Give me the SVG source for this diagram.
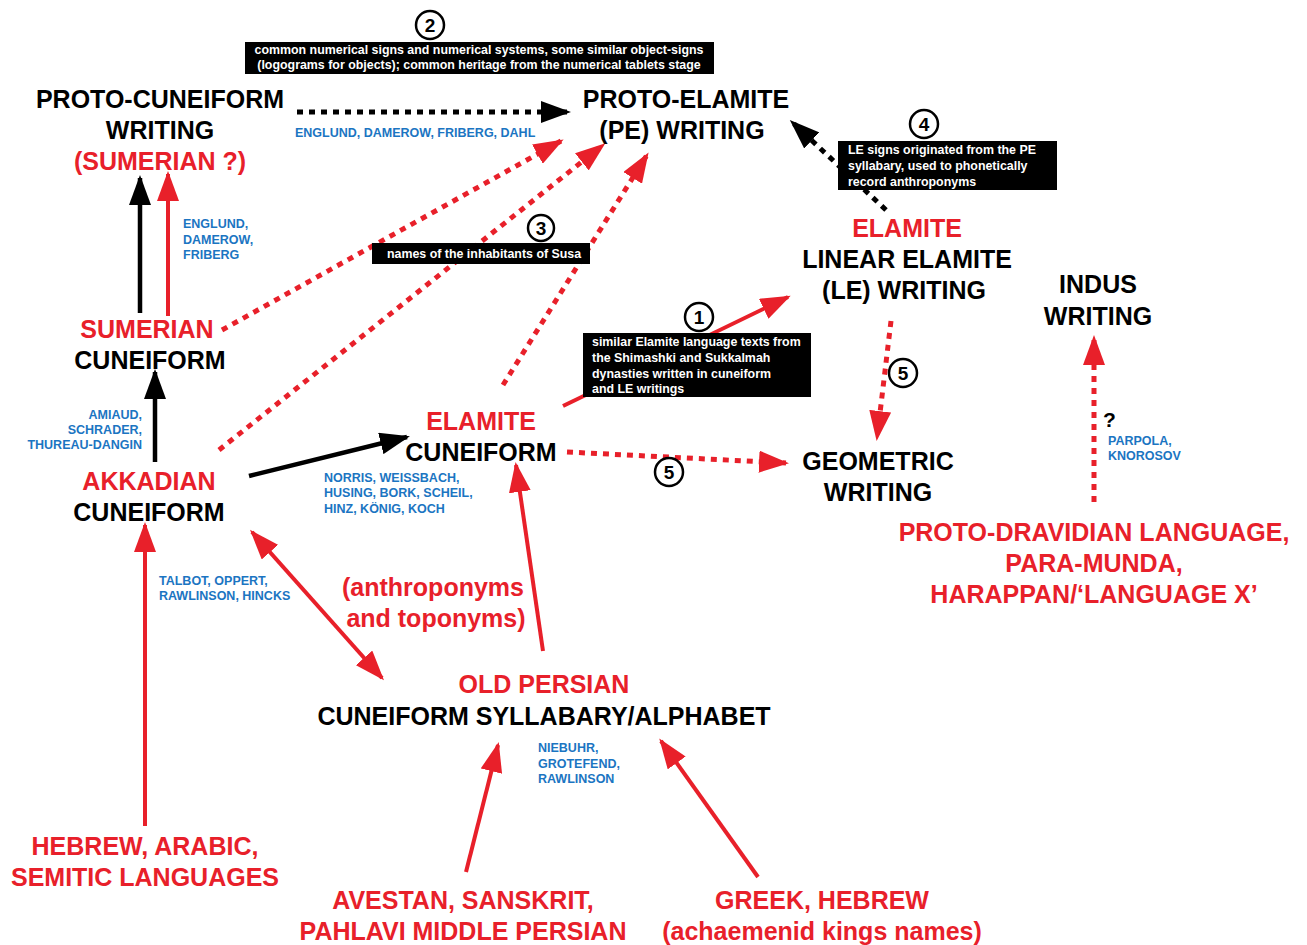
<svg xmlns="http://www.w3.org/2000/svg" width="1307" height="945" viewBox="0 0 1307 945">
<style>
text{font-family:"Liberation Sans",Arial,sans-serif;font-weight:bold}
.t{font-size:25px;text-anchor:middle}
.k{fill:#000}
.r{fill:#e8202a}
.b{fill:#1b75c2;font-size:12.5px}
.bx{fill:#000}
.w{fill:#fff;font-size:12.4px}
.num{font-size:19px;text-anchor:middle;fill:#000}
.ring{fill:#fff;stroke:#000;stroke-width:2.5}
.sk{stroke:#000;stroke-width:4.5;fill:none}
.sr{stroke:#e8202a;stroke-width:4;fill:none}
.dk{stroke:#000;stroke-width:5;fill:none;stroke-dasharray:6 6}
.dr{stroke:#e8202a;stroke-width:5;fill:none;stroke-dasharray:6 6}
</style>
<defs>
<marker id="ak" viewBox="0 0 30 22" refX="27" refY="11" markerWidth="30" markerHeight="22" markerUnits="userSpaceOnUse" orient="auto-start-reverse"><path d="M0,0 L30,11 L0,22 z" fill="#000"/></marker>
<marker id="ar" viewBox="0 0 30 22" refX="27" refY="11" markerWidth="30" markerHeight="22" markerUnits="userSpaceOnUse" orient="auto-start-reverse"><path d="M0,0 L30,11 L0,22 z" fill="#e8202a"/></marker>
</defs>
<rect width="1307" height="945" fill="#fff"/>
<g id="connectors">
<line class="dk" x1="297" y1="112" x2="568" y2="112" marker-end="url(#ak)"/>
<line class="sk" x1="140" y1="313" x2="140" y2="178" marker-end="url(#ak)"/>
<line class="sr" x1="168" y1="316" x2="168" y2="174" marker-end="url(#ar)"/>
<line class="dr" x1="222" y1="330" x2="561" y2="141" marker-end="url(#ar)"/>
<line class="dr" x1="219" y1="450" x2="603" y2="145" marker-end="url(#ar)"/>
<line class="dr" x1="503" y1="385" x2="647" y2="155" marker-end="url(#ar)"/>
<line class="dk" x1="886" y1="210" x2="792" y2="122" marker-end="url(#ak)"/>
<line class="sr" x1="563" y1="406" x2="788" y2="297" marker-end="url(#ar)"/>
<line class="dr" x1="891" y1="321" x2="877" y2="438" marker-end="url(#ar)"/>
<line class="sk" x1="249" y1="476" x2="407" y2="437" marker-end="url(#ak)"/>
<line class="dr" x1="567" y1="452" x2="786" y2="463" marker-end="url(#ar)"/>
<line class="sk" x1="155" y1="462" x2="155" y2="372" marker-end="url(#ak)"/>
<line class="dr" x1="1094" y1="502" x2="1094" y2="338" marker-end="url(#ar)"/>
<line class="sr" x1="145" y1="826" x2="145" y2="525" marker-end="url(#ar)"/>
<line class="sr" x1="252" y1="532" x2="382" y2="678" marker-start="url(#ar)" marker-end="url(#ar)"/>
<line class="sr" x1="543" y1="651" x2="516" y2="465" marker-end="url(#ar)"/>
<line class="sr" x1="466" y1="872" x2="498" y2="745" marker-end="url(#ar)"/>
<line class="sr" x1="758" y1="877" x2="661" y2="741" marker-end="url(#ar)"/>
</g>
<g id="proto-cuneiform">
<text class="t k" x="160" y="108">PROTO-CUNEIFORM</text>
<text class="t k" x="160" y="139">WRITING</text>
<text class="t r" x="160" y="170">(SUMERIAN ?)</text>
</g>
<g id="proto-elamite">
<text class="t k" x="686" y="108">PROTO-ELAMITE</text>
<text class="t k" x="682" y="139">(PE) WRITING</text>
</g>
<g id="linear-elamite">
<text class="t r" x="907" y="237">ELAMITE</text>
<text class="t k" x="907" y="268">LINEAR ELAMITE</text>
<text class="t k" x="904" y="299">(LE) WRITING</text>
</g>
<g id="indus">
<text class="t k" x="1098" y="293">INDUS</text>
<text class="t k" x="1098" y="325">WRITING</text>
</g>
<g id="sumerian">
<text class="t r" x="147" y="338">SUMERIAN</text>
<text class="t k" x="150" y="369">CUNEIFORM</text>
</g>
<g id="akkadian">
<text class="t r" x="149" y="490">AKKADIAN</text>
<text class="t k" x="149" y="521">CUNEIFORM</text>
</g>
<g id="elamite-cuneiform">
<text class="t r" x="481" y="430">ELAMITE</text>
<text class="t k" x="481" y="461">CUNEIFORM</text>
</g>
<g id="geometric">
<text class="t k" x="878" y="470">GEOMETRIC</text>
<text class="t k" x="878" y="501">WRITING</text>
</g>
<g id="proto-dravidian">
<text class="t r" x="1094" y="541">PROTO-DRAVIDIAN LANGUAGE,</text>
<text class="t r" x="1094" y="572">PARA-MUNDA,</text>
<text class="t r" x="1094" y="603">HARAPPAN/‘LANGUAGE X’</text>
</g>
<g id="anthroponyms">
<text class="t r" x="433" y="596">(anthroponyms</text>
<text class="t r" x="436" y="627">and toponyms)</text>
</g>
<g id="old-persian">
<text class="t r" x="544" y="693">OLD PERSIAN</text>
<text class="t k" x="544" y="725">CUNEIFORM SYLLABARY/ALPHABET</text>
</g>
<g id="semitic">
<text class="t r" x="145" y="855">HEBREW, ARABIC,</text>
<text class="t r" x="145" y="886">SEMITIC LANGUAGES</text>
</g>
<g id="avestan">
<text class="t r" x="463" y="909">AVESTAN, SANSKRIT,</text>
<text class="t r" x="463" y="940">PAHLAVI MIDDLE PERSIAN</text>
</g>
<g id="greek">
<text class="t r" x="822" y="909">GREEK, HEBREW</text>
<text class="t r" x="822" y="940">(achaemenid kings names)</text>
</g>
<g id="scholars">
<text class="b" x="295" y="137">ENGLUND, DAMEROW, FRIBERG, DAHL</text>
<text class="b" x="183" y="228">ENGLUND,</text>
<text class="b" x="183" y="244">DAMEROW,</text>
<text class="b" x="183" y="259">FRIBERG</text>
<text class="b" x="142" y="419" text-anchor="end">AMIAUD,</text>
<text class="b" x="142" y="434" text-anchor="end">SCHRADER,</text>
<text class="b" x="142" y="449" text-anchor="end">THUREAU-DANGIN</text>
<text class="b" x="159" y="585">TALBOT, OPPERT,</text>
<text class="b" x="159" y="600">RAWLINSON, HINCKS</text>
<text class="b" x="324" y="482">NORRIS, WEISSBACH,</text>
<text class="b" x="324" y="497">HUSING, BORK, SCHEIL,</text>
<text class="b" x="324" y="513">HINZ, KÖNIG, KOCH</text>
<text class="b" x="1108" y="445">PARPOLA,</text>
<text class="b" x="1108" y="460">KNOROSOV</text>
<text class="b" x="538" y="752">NIEBUHR,</text>
<text class="b" x="538" y="768">GROTEFEND,</text>
<text class="b" x="538" y="783">RAWLINSON</text>
<text x="1103" y="427" style="font-size:21px;fill:#000">?</text>
</g>
<g id="note-2">
<rect class="bx" x="245" y="42" width="469" height="32"/>
<text class="w" x="479" y="54" text-anchor="middle">common numerical signs and numerical systems, some similar object-signs</text>
<text class="w" x="479" y="69" text-anchor="middle">(logograms for objects); common heritage from the numerical tablets stage</text>
<circle class="ring" cx="430" cy="25" r="14"/>
<text class="num" x="430" y="32">2</text>
</g>
<g id="note-4">
<rect class="bx" x="838" y="141" width="219" height="49"/>
<text class="w" x="848" y="154">LE signs originated from the PE</text>
<text class="w" x="848" y="170">syllabary, used to phonetically</text>
<text class="w" x="848" y="186">record anthroponyms</text>
<circle class="ring" cx="924" cy="124" r="14"/>
<text class="num" x="924" y="131">4</text>
</g>
<g id="note-3">
<rect class="bx" x="372" y="243" width="218" height="21"/>
<text class="w" x="387" y="258">names of the inhabitants of Susa</text>
<circle class="ring" cx="541" cy="228" r="13"/>
<text class="num" x="541" y="235">3</text>
</g>
<g id="note-1">
<rect class="bx" x="583" y="333" width="228" height="64"/>
<text class="w" x="592" y="346">similar Elamite language texts from</text>
<text class="w" x="592" y="362">the Shimashki and Sukkalmah</text>
<text class="w" x="592" y="378">dynasties written in cuneiform</text>
<text class="w" x="592" y="393">and LE writings</text>
<circle class="ring" cx="699" cy="317" r="14"/>
<text class="num" x="699" y="324">1</text>
</g>
<g id="note-5a">
<circle class="ring" cx="903" cy="373" r="14"/>
<text class="num" x="903" y="380">5</text>
</g>
<g id="note-5b">
<circle class="ring" cx="669" cy="472" r="14"/>
<text class="num" x="669" y="479">5</text>
</g>
</svg>
